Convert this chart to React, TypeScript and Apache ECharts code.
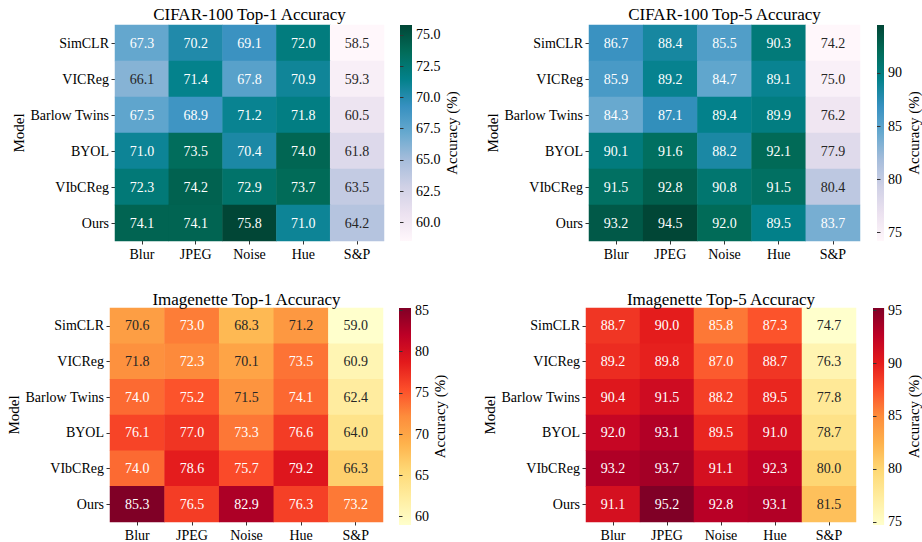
import React, { useEffect, useRef } from "react";
import * as echarts from "echarts";

const models = ["SimCLR", "VICReg", "Barlow Twins", "BYOL", "VIbCReg", "Ours"];
const corruptions = ["Blur", "JPEG", "Noise", "Hue", "S&P"];

const cifarTop1 = [
  [67.3, 70.2, 69.1, 72.0, 58.5],
  [66.1, 71.4, 67.8, 70.9, 59.3],
  [67.5, 68.9, 71.2, 71.8, 60.5],
  [71.0, 73.5, 70.4, 74.0, 61.8],
  [72.3, 74.2, 72.9, 73.7, 63.5],
  [74.1, 74.1, 75.8, 71.0, 64.2],
];
const cifarTop5 = [
  [86.7, 88.4, 85.5, 90.3, 74.2],
  [85.9, 89.2, 84.7, 89.1, 75.0],
  [84.3, 87.1, 89.4, 89.9, 76.2],
  [90.1, 91.6, 88.2, 92.1, 77.9],
  [91.5, 92.8, 90.8, 91.5, 80.4],
  [93.2, 94.5, 92.0, 89.5, 83.7],
];
const imagenetteTop1 = [
  [70.6, 73.0, 68.3, 71.2, 59.0],
  [71.8, 72.3, 70.1, 73.5, 60.9],
  [74.0, 75.2, 71.5, 74.1, 62.4],
  [76.1, 77.0, 73.3, 76.6, 64.0],
  [74.0, 78.6, 75.7, 79.2, 66.3],
  [85.3, 76.5, 82.9, 76.3, 73.2],
];
const imagenetteTop5 = [
  [88.7, 90.0, 85.8, 87.3, 74.7],
  [89.2, 89.8, 87.0, 88.7, 76.3],
  [90.4, 91.5, 88.2, 89.5, 77.8],
  [92.0, 93.1, 89.5, 91.0, 78.7],
  [93.2, 93.7, 91.1, 92.3, 80.0],
  [91.1, 95.2, 92.8, 93.1, 81.5],
];

const cifarTop1Ticks = [60, 62.5, 65, 67.5, 70, 72.5, 75];
const cifarTop5Ticks = [75, 80, 85, 90];
const imagenetteTop1Ticks = [60, 65, 70, 75, 80, 85];
const imagenetteTop5Ticks = [75, 80, 85, 90, 95];

const titles = [
  "CIFAR-100 Top-1 Accuracy",
  "CIFAR-100 Top-5 Accuracy",
  "Imagenette Top-1 Accuracy",
  "Imagenette Top-5 Accuracy",
];

const PuBuGn = ["#fff7fb", "#ece2f0", "#d0d1e6", "#a6bddb", "#67a9cf", "#3690c0", "#02818a", "#016c59", "#014636"];
const YlOrRd = ["#ffffcc", "#ffeda0", "#fed976", "#feb24c", "#fd8d3c", "#fc4e2a", "#e31a1c", "#bd0026", "#800026"];

const FONT = "'Liberation Serif', 'Times New Roman', serif";

const panels = [
  { data: cifarTop1, ticks: cifarTop1Ticks, cmap: PuBuGn, decimals: 1, left: 115, top: 25, width: 269, height: 216, cbLeft: 400, nameGap: 85, cbGap: 28, titleOff: 19 },
  { data: cifarTop5, ticks: cifarTop5Ticks, cmap: PuBuGn, decimals: 0, left: 589, top: 25, width: 271, height: 216, cbLeft: 877, nameGap: 87, cbGap: 22, titleOff: 19 },
  { data: imagenetteTop1, ticks: imagenetteTop1Ticks, cmap: YlOrRd, decimals: 0, left: 110, top: 308, width: 273, height: 217, cbLeft: 399, nameGap: 82, cbGap: 14, titleOff: 17 },
  { data: imagenetteTop5, ticks: imagenetteTop5Ticks, cmap: YlOrRd, decimals: 0, left: 586, top: 308, width: 270, height: 217, cbLeft: 873, nameGap: 85, cbGap: 15, titleOff: 17 },
];

function hexToRgb(h: string) {
  return [parseInt(h.slice(1, 3), 16), parseInt(h.slice(3, 5), 16), parseInt(h.slice(5, 7), 16)];
}
function cmapColor(cmap: string[], t: number) {
  const tt = Math.max(0, Math.min(1, t));
  const pos = tt * (cmap.length - 1);
  const i = Math.min(cmap.length - 2, Math.floor(pos));
  const f = pos - i;
  const a = hexToRgb(cmap[i]);
  const b = hexToRgb(cmap[i + 1]);
  return [0, 1, 2].map((k) => a[k] + (b[k] - a[k]) * f);
}
function luminance(rgb: number[]) {
  const c = rgb.map((v) => {
    const s = v / 255;
    return s <= 0.03928 ? s / 12.92 : Math.pow((s + 0.055) / 1.055, 2.4);
  });
  return 0.2126 * c[0] + 0.7152 * c[1] + 0.0722 * c[2];
}

export default function App() {
  const ref = useRef<HTMLDivElement>(null);
  useEffect(() => {
    if (!ref.current) return;
    const chart = echarts.init(ref.current, undefined, { renderer: "svg" });
    const grids: any[] = [];
    const xAxes: any[] = [];
    const yAxes: any[] = [];
    const visualMaps: any[] = [];
    const series: any[] = [];
    const titleArr: any[] = [];

    panels.forEach((p, i) => {
      const flat = p.data.flat();
      const mn = Math.min(...flat);
      const mx = Math.max(...flat);
      titleArr.push({
        text: titles[i],
        left: p.left + p.width / 2,
        top: p.top - p.titleOff,
        textAlign: "center",
        padding: 0,
        textStyle: { fontFamily: FONT, fontSize: 17, fontWeight: "normal", color: "#000" },
      });
      grids.push({ left: p.left, top: p.top, width: p.width, height: p.height, containLabel: false });
      xAxes.push({
        type: "category",
        gridIndex: i,
        data: corruptions,
        axisLine: { show: false },
        axisTick: { show: true, alignWithLabel: true, length: 3.5, lineStyle: { color: "#333" } },
        axisLabel: { interval: 0, fontFamily: FONT, fontSize: 14, color: "#000", margin: 6 },
        splitLine: { show: false },
      });
      yAxes.push({
        type: "category",
        gridIndex: i,
        data: models,
        inverse: true,
        axisLine: { show: false },
        axisTick: { show: true, alignWithLabel: true, length: 3.5, lineStyle: { color: "#333" } },
        axisLabel: { interval: 0, fontFamily: FONT, fontSize: 14, color: "#000", margin: 6 },
        splitLine: { show: false },
        name: "Model",
        nameLocation: "middle",
        nameRotate: 90,
        nameGap: p.nameGap,
        nameTextStyle: { fontFamily: FONT, fontSize: 15, color: "#000" },
      });
      const items: any[] = [];
      p.data.forEach((row, r) => {
        row.forEach((v, c) => {
          const col = cmapColor(p.cmap, (v - mn) / (mx - mn));
          const lum = luminance(col);
          items.push({ value: [c, r, v], label: { color: lum > 0.408 ? "#262626" : "#ffffff" } });
        });
      });
      series.push({
        type: "heatmap",
        xAxisIndex: i,
        yAxisIndex: i,
        data: items,
        label: {
          show: true,
          fontFamily: FONT,
          fontSize: 14,
          formatter: (prm: any) => prm.value[2].toFixed(1),
        },
        itemStyle: { borderWidth: 0 },
        emphasis: { disabled: true },
      });
      visualMaps.push({
        type: "continuous",
        show: false,
        seriesIndex: i,
        dimension: 2,
        min: mn,
        max: mx,
        inRange: { color: p.cmap },
      });
    });

    panels.forEach((p, i) => {
      const flat = p.data.flat();
      const mn = Math.min(...flat);
      const mx = Math.max(...flat);
      const gi = panels.length + i;
      const stops = p.cmap.map((c, k) => ({ offset: k / (p.cmap.length - 1), color: c }));
      grids.push({
        left: p.cbLeft,
        top: p.top,
        width: 12,
        height: p.height,
        show: true,
        borderWidth: 0,
        backgroundColor: new echarts.graphic.LinearGradient(0, 1, 0, 0, stops),
      });
      xAxes.push({ type: "value", gridIndex: gi, show: false, min: 0, max: 1 });
      yAxes.push({
        type: "value",
        gridIndex: gi,
        position: "right",
        min: mn,
        max: mx,
        axisLine: { show: false },
        splitLine: { show: false },
        axisTick: { show: true, length: 3.5, lineStyle: { color: "#333" }, customValues: p.ticks },
        axisLabel: {
          fontFamily: FONT,
          fontSize: 14,
          color: "#000",
          margin: 4,
          customValues: p.ticks,
          formatter: (v: number) => v.toFixed(p.decimals),
        },
        name: "Accuracy (%)",
        nameLocation: "middle",
        nameRotate: 90,
        nameGap: p.cbGap,
        nameTextStyle: { fontFamily: FONT, fontSize: 15, color: "#000" },
      });
    });

    chart.setOption({
      animation: false,
      backgroundColor: "#ffffff",
      title: titleArr,
      grid: grids,
      xAxis: xAxes,
      yAxis: yAxes,
      visualMap: visualMaps,
      series,
    });
    return () => chart.dispose();
  }, []);
  return <div ref={ref} style={{ position: "fixed", left: 0, top: 0, width: 922, height: 542 }} />;
}
